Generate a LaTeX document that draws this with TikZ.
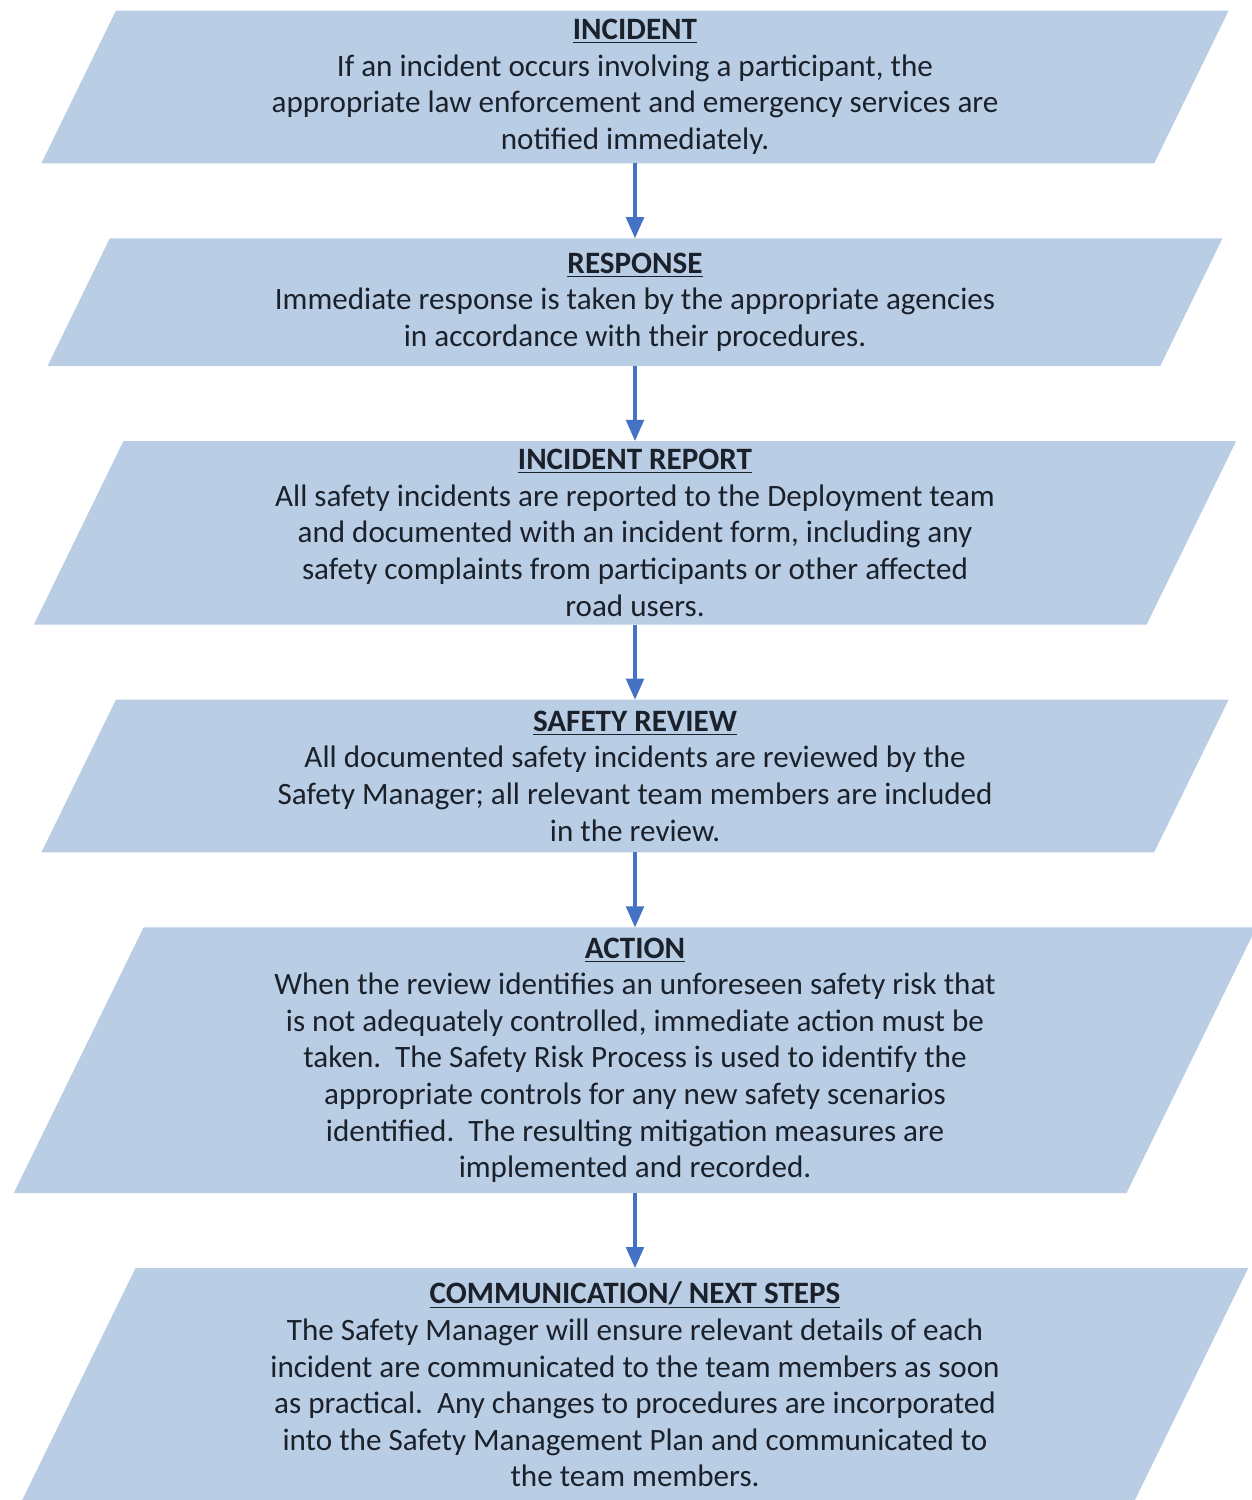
\documentclass[tikz,border=0pt]{standalone}
\usepackage{fontspec}
\setmainfont{Carlito}
\usetikzlibrary{arrows.meta, positioning, calc, backgrounds}
\definecolor{flowblue}{HTML}{B9CDE5}
\definecolor{flowink}{HTML}{1B212B}
\definecolor{arrowblue}{HTML}{4472C4}
\tikzset{
  flowtext/.style={minimum width=22.24cm, inner sep=2pt, align=center,
    text=flowink},
  flowarrow/.style={-{Triangle[length=12pt, width=10pt]}, arrowblue,
    line width=2pt},
}
\newcommand{\flowbox}[4]{%
  \node[flowtext, minimum height=#3cm, #2] (#1) {#4};
  \begin{scope}[on background layer]
    \fill[flowblue] ($(#1.south west)-(0.245*#3,0)$)
      -- ($(#1.south east)-(0.245*#3,0)$)
      -- ($(#1.north east)+(0.245*#3,0)$)
      -- ($(#1.north west)+(0.245*#3,0)$) -- cycle;
  \end{scope}}
\newcommand{\flowtitle}[1]{\textbf{\underline{#1}}}

\begin{document}
\begin{tikzpicture}[font=\fontsize{17.7}{20.8}\selectfont]
  \useasboundingbox (0,0) rectangle (25.04,30);
  \flowbox{incident}{at={(12.7,28.26)}}{3.04}{\flowtitle{INCIDENT}\\
    If an incident occurs involving a participant, the\\
    appropriate law enforcement and emergency services are\\
    notified immediately.}
  \flowbox{response}{below=1.5cm of incident}{2.54}{\flowtitle{RESPONSE}\\
    Immediate response is taken by the appropriate agencies\\
    in accordance with their procedures.}
  \flowbox{report}{below=1.5cm of response}{3.66}{\flowtitle{INCIDENT REPORT}\\
    All safety incidents are reported to the Deployment team\\
    and documented with an incident form, including any\\
    safety complaints from participants or other affected\\
    road users.}
  \flowbox{review}{below=1.5cm of report}{3.04}{\flowtitle{SAFETY REVIEW}\\
    All documented safety incidents are reviewed by the\\
    Safety Manager; all relevant team members are included\\
    in the review.}
  \flowbox{action}{below=1.5cm of review}{5.3}{\flowtitle{ACTION}\\
    When the review identifies an unforeseen safety risk that\\
    is not adequately controlled, immediate action must be\\
    taken.\ \ The Safety Risk Process is used to identify the\\
    appropriate controls for any new safety scenarios\\
    identified.\ \ The resulting mitigation measures are\\
    implemented and recorded.}
  \flowbox{nextsteps}{below=1.5cm of action}{4.64}{\flowtitle{COMMUNICATION/ NEXT STEPS}\\
    The Safety Manager will ensure relevant details of each\\
    incident are communicated to the team members as soon\\
    as practical.\ \ Any changes to procedures are incorporated\\
    into the Safety Management Plan and communicated to\\
    the team members.}
  % connectors
  \draw[flowarrow] (incident) -- (response);
  \draw[flowarrow] (response) -- (report);
  \draw[flowarrow] (report) -- (review);
  \draw[flowarrow] (review) -- (action);
  \draw[flowarrow] (action) -- (nextsteps);
\end{tikzpicture}
\end{document}
